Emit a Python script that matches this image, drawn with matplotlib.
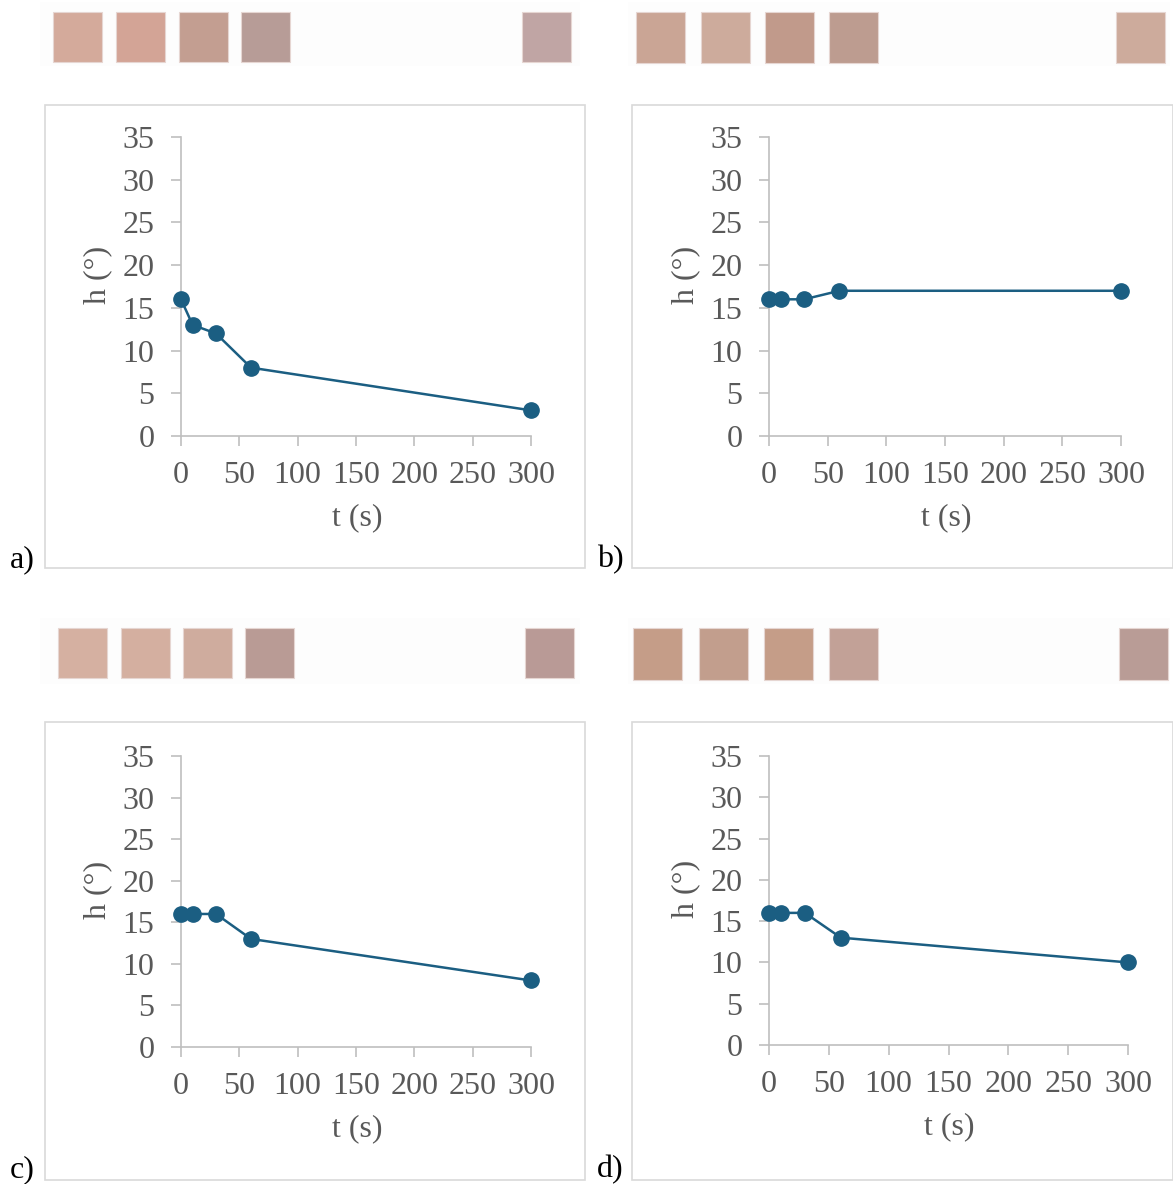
import matplotlib
matplotlib.use("Agg")
import matplotlib.pyplot as plt
import matplotlib.patches as patches

W, H = 1173, 1184

# data
t = [0, 10, 30, 60, 300]
h_a = [16, 13, 12, 8, 3]
h_b = [16, 16, 16, 17, 17]
h_c = [16, 16, 16, 13, 8]
h_d = [16, 16, 16, 13, 10]
panel_labels = ["a)", "b)", "c)", "d)"]
x_ticks = [0, 50, 100, 150, 200, 250, 300]
y_ticks = [0, 5, 10, 15, 20, 25, 30, 35]

# swatch colours above each panel
sw_a = ["#d4aa9b", "#d3a496", "#c39e91", "#b79c97", "#c0a5a4"]
sw_b = ["#caa595", "#cdab9c", "#c19a8b", "#bd9c90", "#cdab9c"]
sw_c = ["#d5b0a1", "#d4afa0", "#cfac9e", "#b99b95", "#b99a96"]
sw_d = ["#c59d88", "#c29e8d", "#c59d88", "#c2a197", "#b99c96"]

line_col = "#1b5e82"
grey_txt = "#595959"
axis_col = "#bfbfbf"
fs = 23

plt.rcParams['font.family'] = ['Liberation Serif', 'DejaVu Serif']

fig = plt.figure(figsize=(W / 100, H / 100), dpi=100)


def fbox(x0, y0, x1, y1):
    # pixel box (top-left origin) -> figure fraction [left, bottom, width, height]
    return [x0 / W, 1 - y1 / H, (x1 - x0) / W, (y1 - y0) / H]


def rect(x0, y0, x1, y1, **kw):
    l, b, w, hh = fbox(x0, y0, x1, y1)
    fig.patches.append(patches.Rectangle((l, b), w, hh, transform=fig.transFigure, **kw))


# layout of each panel in pixels
panels = [
    dict(h=h_a, sw=sw_a, ax=(181, 137, 531, 436), box=(45, 105, 585, 568),
         strip=(40, 2, 580, 66), sx=[53, 116, 179, 241, 522], sy=(12, 62), lab=(22, 560)),
    dict(h=h_b, sw=sw_b, ax=(769, 137, 1121, 436), box=(632, 105, 1173, 568),
         strip=(628, 2, 1170, 66), sx=[636, 701, 765, 829, 1116], sy=(12, 63), lab=(610, 560)),
    dict(h=h_c, sw=sw_c, ax=(181, 756, 531, 1047), box=(45, 722, 585, 1180),
         strip=(40, 618, 580, 684), sx=[58, 121, 183, 245, 525], sy=(628, 678), lab=(22, 1170)),
    dict(h=h_d, sw=sw_d, ax=(769, 756, 1128, 1045), box=(632, 722, 1173, 1180),
         strip=(628, 618, 1170, 684), sx=[633, 699, 764, 829, 1119], sy=(628, 680), lab=(610, 1170)),
]

for p, lab in zip(panels, panel_labels):
    # faint strip and colour swatches
    rect(*p["strip"], facecolor="#fdfdfd", edgecolor="none")
    for x, c in zip(p["sx"], p["sw"]):
        rect(x, p["sy"][0], x + 49, p["sy"][1], facecolor=c, edgecolor="#e6d6d2", linewidth=0.8)

    # chart border
    rect(*p["box"], facecolor="none", edgecolor="#d9d9d9", linewidth=1.2)

    x0, y0, x1, y1 = p["ax"]
    ax = fig.add_axes(fbox(x0, y0, x1, y1))
    ax.plot(t, p["h"], color=line_col, linewidth=1.8, marker="o", markersize=11,
            clip_on=False, zorder=3)
    ax.set_xlim(0, 300)
    ax.set_ylim(0, 35)
    ax.set_xticks(x_ticks)
    ax.set_yticks(y_ticks)
    ax.set_facecolor("none")
    for s in ["top", "right"]:
        ax.spines[s].set_visible(False)
    for s in ["left", "bottom"]:
        ax.spines[s].set_color(axis_col)
        ax.spines[s].set_linewidth(1.2)
    ax.tick_params(axis="both", colors=axis_col, labelcolor=grey_txt, labelsize=fs,
                   length=7, width=1.2, direction="out")
    ax.tick_params(axis="x", pad=11)
    ax.tick_params(axis="y", pad=12)

    # axis titles
    fig.text(((x0 + x1) / 2 + 1) / W, 1 - (y1 + 82) / H, "t (s)", ha="center", va="center",
             fontsize=fs, color=grey_txt)
    fig.text((x0 - 83) / W, 1 - ((y0 + y1) / 2 - 12) / H, "h (°)", ha="center", va="center",
             rotation=90, fontsize=fs, color=grey_txt)

    fig.text(p["lab"][0] / W, 1 - p["lab"][1] / H, lab, ha="center", va="center",
             fontsize=fs, color="black")

fig.savefig("out.png", dpi=100)
